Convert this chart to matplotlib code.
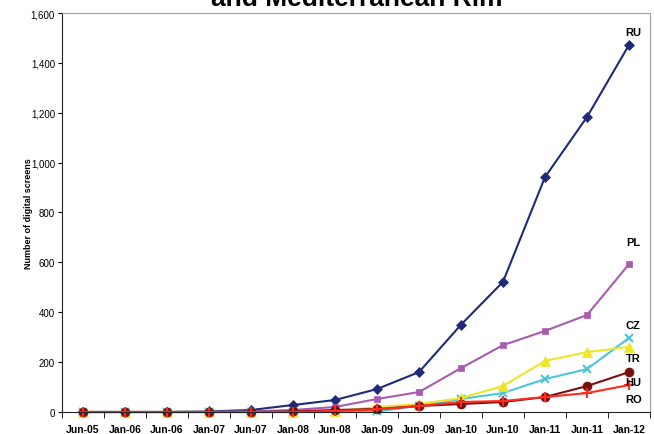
import numpy as np
import matplotlib.pyplot as plt

plt.rcParams['font.family'] = ['Liberation Sans', 'DejaVu Sans']

periods = ['Jun-05', 'Jan-06', 'Jun-06', 'Jan-07', 'Jun-07', 'Jan-08', 'Jun-08',
           'Jan-09', 'Jun-09', 'Jan-10', 'Jun-10', 'Jan-11', 'Jun-11', 'Jan-12']

ru = [0, 0, 0, 2, 8, 28, 48, 92, 160, 350, 522, 942, 1183, 1472]
pl = [0, 0, 0, 0, 2, 8, 20, 52, 80, 176, 268, 325, 389, 593]
cz = [0, 0, 0, 0, 0, 0, 0, 2, 25, 52, 76, 132, 172, 297]
tr = [0, 0, 0, 0, 0, 0, 2, 20, 32, 56, 104, 205, 240, 261]
hu = [0, 0, 0, 0, 0, 2, 8, 12, 24, 32, 40, 60, 104, 160]
ro = [0, 0, 0, 0, 0, 0, 4, 10, 24, 40, 44, 60, 76, 108]

# (name, values, colour, marker, size)
series = [
    ('RU', ru, '#1f2a78', 'D', 5),
    ('PL', pl, '#a95bb0', 's', 4),
    ('CZ', cz, '#4cc6d8', 'x', 6),
    ('TR', tr, '#eee52a', '^', 7),
    ('HU', hu, '#7a0f10', 'o', 6.5),
    ('RO', ro, '#ff2a20', '+', 7),
]
labels_pos = {'RU': 1525, 'PL': 680, 'CZ': 350, 'TR': 218, 'HU': 122, 'RO': 52}

fig = plt.figure(figsize=(6.54, 4.35), dpi=100)
ax = fig.add_axes([0.0948, 0.0506, 0.8991, 0.9172])

x = np.arange(len(periods))
for name, vals, col, mk, ms in series:
    ax.plot(x, vals, color=col, marker=mk, markersize=ms, linewidth=1.5,
            markeredgewidth=1.5 if mk in ('x', '+') else 0.5, clip_on=False)
    ax.text(x[-1] + 0.1, labels_pos[name], name, fontsize=8, fontweight='bold',
            ha='center', va='center')

ax.set_xlim(-0.5, len(periods) - 0.5)
ax.set_ylim(0, 1600)
ax.set_yticks(np.arange(0, 1601, 200))
ax.set_yticklabels(['{:,}'.format(v) for v in range(0, 1601, 200)], fontsize=7)
ax.set_xticks(x)
ax.set_xticklabels(periods, fontsize=7.5, fontweight='bold')
ax.set_xticks(np.arange(-0.5, len(periods), 1), minor=True)
ax.tick_params(axis='x', which='major', length=0, pad=9)
ax.tick_params(axis='x', which='minor', length=4, direction='out')
ax.tick_params(axis='y', length=3, direction='out', pad=2)

for s in ['top', 'right']:
    ax.spines[s].set_color('#a0a0a0')
for s in ['left', 'bottom']:
    ax.spines[s].set_color('#222222')

ax.set_ylabel('Number of digital screens', fontsize=6.5, fontweight='bold')
ax.yaxis.set_label_coords(-0.049, 0.5)

fig.text(0.545, 1 - 6 / 435, 'and Mediterranean Rim', fontsize=19, fontweight='bold',
         ha='center', va='baseline')

fig.savefig('out.png', dpi=100)
